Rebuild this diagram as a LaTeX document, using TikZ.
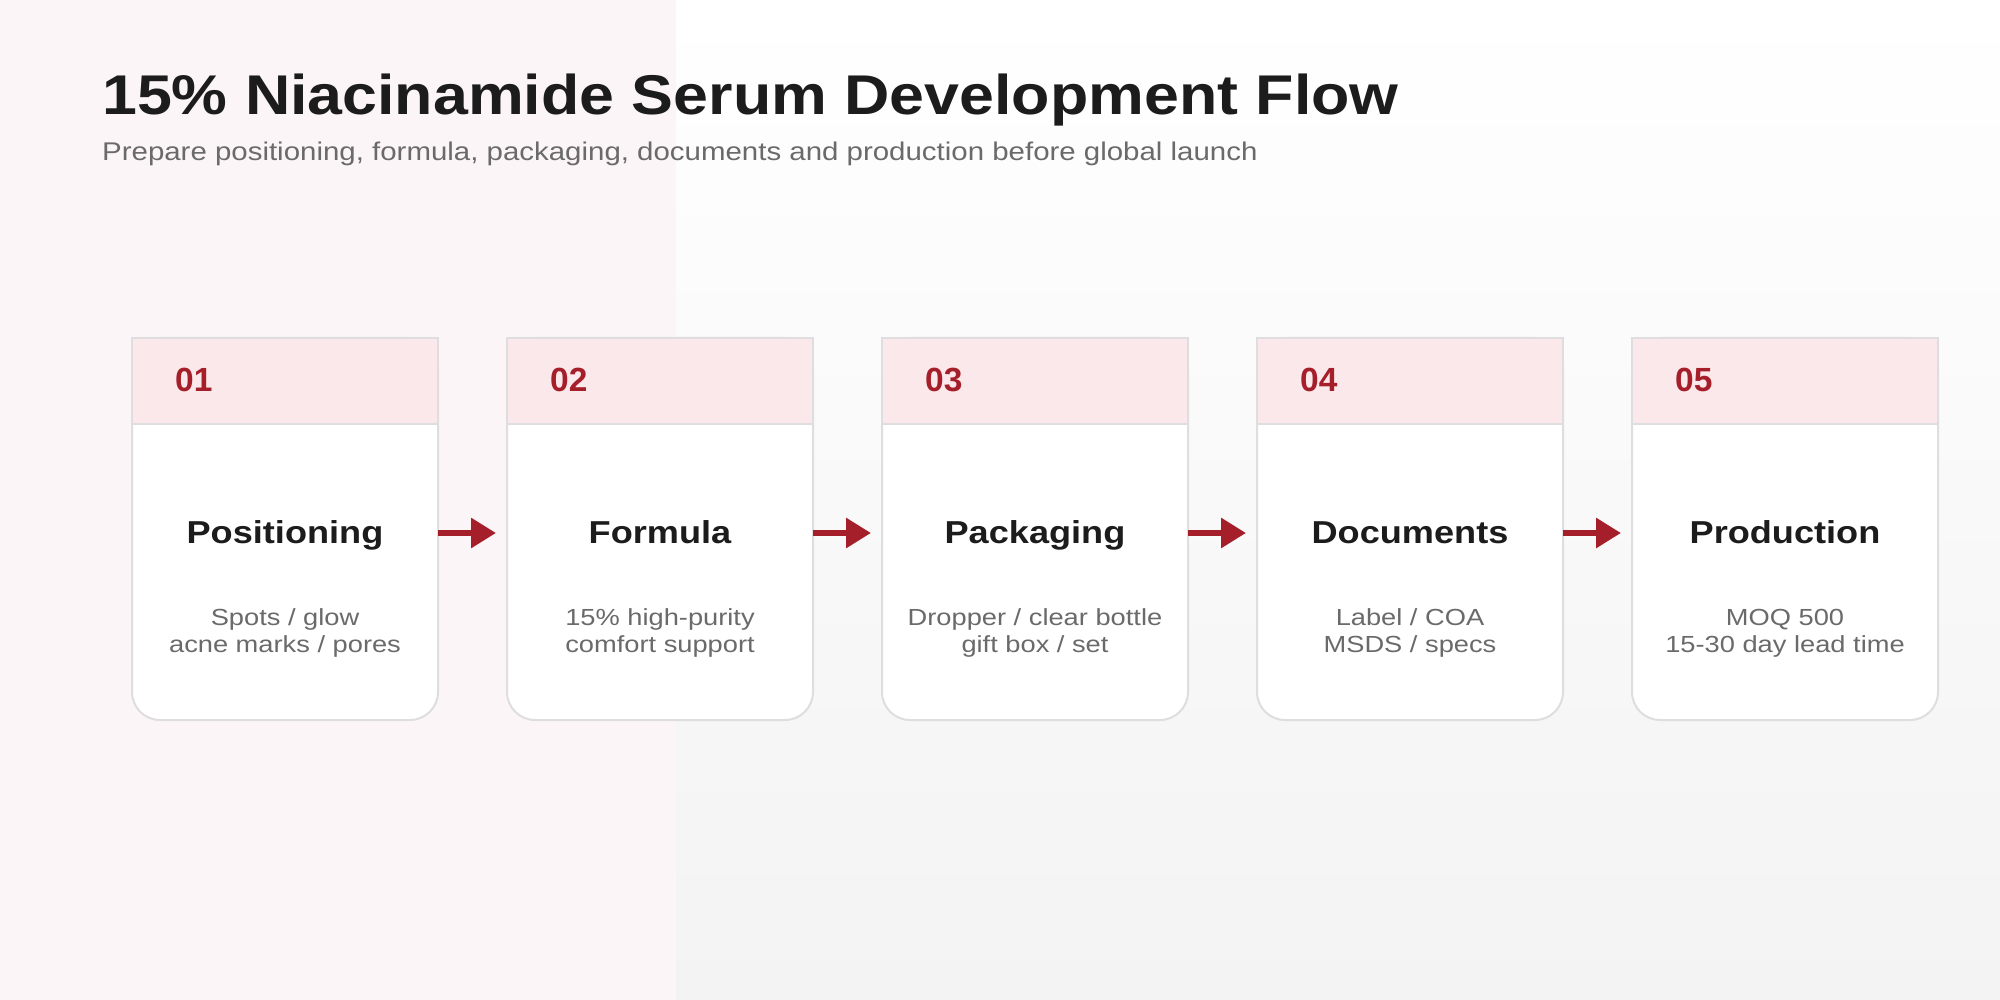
\documentclass[tikz,border=0pt]{standalone}
\usepackage{fontspec}
\setmainfont{Liberation Sans}
\newfontfamily\titlefont[FakeStretch=1.12]{Liberation Sans}
\newfontfamily\subfont[FakeStretch=1.15]{Liberation Sans}
\newfontfamily\cardfont[FakeStretch=1.14]{Liberation Sans}
\newfontfamily\descfont[FakeStretch=1.17]{Liberation Sans}
\usetikzlibrary{arrows.meta,calc}
\definecolor{accent}{HTML}{A51F2A}
\definecolor{titlec}{HTML}{1C1C1C}
\definecolor{subc}{HTML}{6A6A6A}
\definecolor{pinkpanel}{HTML}{FCF5F7}
\definecolor{bgbot}{HTML}{F3F3F4}
\definecolor{headpink}{HTML}{FBE8EA}
\definecolor{cardline}{HTML}{DEDEE0}
\tikzset{
  cardbox/.style={draw=cardline, line width=2pt, fill=white, rounded corners=28pt},
  headbox/.style={draw=cardline, line width=2pt, fill=headpink},
  cardnode/.style={minimum width=306pt, minimum height=382pt, anchor=north west, inner sep=0pt},
  numtext/.style={anchor=base west, inner sep=0pt, text=accent, font=\fontsize{33.5}{33.5}\selectfont\bfseries},
  steptitle/.style={anchor=base, inner sep=0pt, text=titlec, font=\cardfont\fontsize{31.7}{31.7}\selectfont\bfseries},
  stepdesc/.style={anchor=base, inner sep=0pt, text=subc, font=\descfont\fontsize{23.3}{23.3}\selectfont},
  flowarrow/.style={draw=accent, line width=6pt, -{Triangle[length=25pt,width=29pt]}}
}
\newcommand\stepcard[6]{% #1 id, #2 x, #3 number, #4 title, #5 line1, #6 line2
  \node[cardnode] (c#1) at (#2,338) {};
  \draw[cardbox] (#2,338) rectangle ($(#2,720)+(306,0)$);
  \draw[headbox] (#2,338) rectangle ($(#2,424)+(306,0)$);
  \node[numtext] (n#1) at ($(#2,391)+(43,0)$) {#3};
  \node[steptitle] (t#1) at ($(#2,543)+(153,0)$) {#4};
  \node[stepdesc] (da#1) at ($(#2,625)+(153,0)$) {#5};
  \node[stepdesc] (db#1) at ($(#2,652)+(153,0)$) {#6};
}
\begin{document}
\begin{tikzpicture}[x=1pt,y=-1pt]
\useasboundingbox (0,0) rectangle (2000,1000);
\shade[top color=white, bottom color=bgbot] (0,0) rectangle (2000,1000);
\fill[pinkpanel] (0,0) rectangle (676,1000);
\node[anchor=base west, inner sep=0pt, text=titlec, font=\titlefont\fontsize{56}{56}\selectfont\bfseries] (title) at (102,115) {15\% Niacinamide Serum Development Flow};
\node[anchor=base west, inner sep=0pt, text=subc, font=\subfont\fontsize{25.6}{25.6}\selectfont] (subtitle) at (102,161) {Prepare positioning, formula, packaging, documents and production before global launch};
\stepcard{1}{132}{01}{Positioning}{Spots / glow}{acne marks / pores}
\stepcard{2}{507}{02}{Formula}{15\% high-purity}{comfort support}
\stepcard{3}{882}{03}{Packaging}{Dropper / clear bottle}{gift box / set}
\stepcard{4}{1257}{04}{Documents}{Label / COA}{MSDS / specs}
\stepcard{5}{1632}{05}{Production}{MOQ 500}{15-30 day lead time}
\foreach \a/\b in {1/2,2/3,3/4,4/5}{
  \draw[flowarrow] ($(c\a.east |- t\a.base)+(0,-10)$) -- ($(c\b.west |- t\b.base)+(-11,-10)$);
}
\end{tikzpicture}
\end{document}
